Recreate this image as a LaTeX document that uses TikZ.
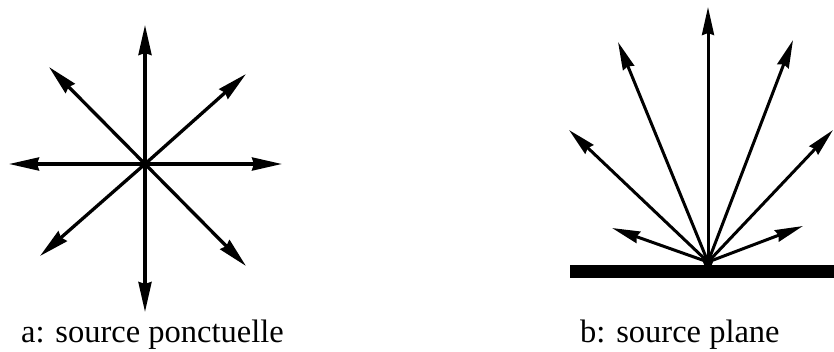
\documentclass[tikz,border=0pt]{standalone}
\usepackage{fontspec}
\setmainfont{Liberation Serif}
\usetikzlibrary{arrows.meta}
\begin{document}
\begin{tikzpicture}[x=1pt,y=-1pt,
  ray/.style={line width=3.3pt,-{Stealth[length=30pt,width=13pt,inset=2pt]}},
  rayb/.style={line width=3.0pt,-{Stealth[length=28pt,width=12pt,inset=2pt]}},
  lbl/.style={anchor=base west,inner sep=0pt,font=\fontsize{32.5}{38}\selectfont}]
\useasboundingbox (0,0) rectangle (834,351);
% left: point source
\coordinate (c) at (145,164);
\coordinate (aU) at (145,25);
\coordinate (aD) at (145,312);
\coordinate (aL) at (9,164);
\coordinate (aR) at (282,164);
\coordinate (aUL) at (49,67);
\coordinate (aUR) at (246,74);
\coordinate (aLL) at (40,256);
\coordinate (aLR) at (246,266);
\foreach \t in {aU,aD,aL,aR,aUL,aUR,aLL,aLR} \draw[ray] (c) -- (\t);
\fill (c) circle (3.5);
% right: plane source
\coordinate (s) at (708,262);
\coordinate (bU) at (708,7);
\coordinate (bUL) at (618,42);
\coordinate (bUR) at (793,40);
\coordinate (bL) at (569,130);
\coordinate (bR) at (833,130);
\coordinate (bLL) at (612,228);
\coordinate (bLR) at (803,226);
\foreach \t in {bU,bUL,bUR,bL,bR,bLL,bLR} \draw[rayb] (s) -- (\t);
\fill (s) circle (5);
\fill (570,265) rectangle (834,278);
% labels
\node[lbl] (la) at (21,342) {a: source ponctuelle};
\node[lbl] (lb) at (580,342) {b: source plane};
\end{tikzpicture}
\end{document}
